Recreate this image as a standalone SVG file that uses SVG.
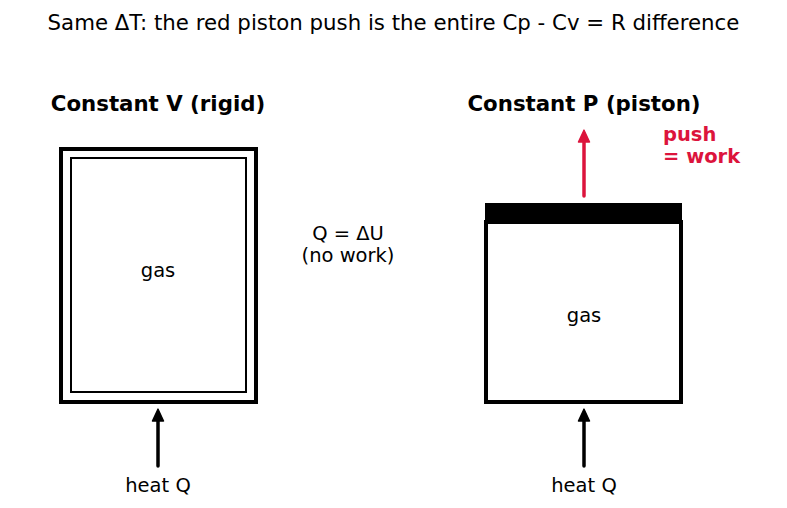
<svg xmlns="http://www.w3.org/2000/svg" width="787" height="508" viewBox="0 0 787 508">
<style>
text{font-family:"DejaVu Sans",sans-serif;fill:#000}
.t{font-size:21.3px}
.h{font-size:21.3px;font-weight:bold}
.l{font-size:19.5px}
.r{font-size:19.5px;font-weight:bold;fill:#dc143c}
</style>
<defs>
<marker id="ab" viewBox="0 0 10 10" refX="5" refY="5" markerWidth="3.8" markerHeight="3.8" orient="auto"><path d="M0.5,0.8 L9.5,5 L0.5,9.2 z" fill="#000" stroke="#000" stroke-width="1" stroke-linejoin="round"/></marker>
<marker id="ar" viewBox="0 0 10 10" refX="5" refY="5" markerWidth="3.8" markerHeight="3.8" orient="auto"><path d="M0.5,0.8 L9.5,5 L0.5,9.2 z" fill="#dc143c" stroke="#dc143c" stroke-width="1" stroke-linejoin="round"/></marker>
</defs>
<rect width="787" height="508" fill="#fff"/>
<text class="t" x="393.5" y="30" text-anchor="middle">Same ΔT: the red piston push is the entire Cp - Cv = R difference</text>
<g id="rigid">
<text class="h" x="158" y="111" text-anchor="middle">Constant V (rigid)</text>
<rect x="61" y="149" width="195" height="253" fill="none" stroke="#000" stroke-width="4"/>
<rect x="71" y="158" width="175" height="234" fill="none" stroke="#000" stroke-width="2"/>
<text class="l" x="158" y="277" text-anchor="middle">gas</text>
</g>
<g id="piston">
<text class="h" x="584" y="111" text-anchor="middle">Constant P (piston)</text>
<rect x="485" y="203" width="197" height="18" fill="#000"/>
<rect x="486" y="222" width="195" height="180" fill="none" stroke="#000" stroke-width="4"/>
<text class="l" x="584" y="322" text-anchor="middle">gas</text>
<text class="r" x="663" y="141">push</text>
<text class="r" x="663" y="163">= work</text>
</g>
<g id="mid">
<text class="l" x="348" y="240" text-anchor="middle">Q = ΔU</text>
<text class="l" x="348" y="262" text-anchor="middle">(no work)</text>
</g>
<g id="heatL"><text class="l" x="158" y="492" text-anchor="middle">heat Q</text></g>
<g id="heatR"><text class="l" x="584" y="492" text-anchor="middle">heat Q</text></g>
<g id="connectors" stroke-linecap="round" fill="none">
<line x1="158" y1="466" x2="158" y2="415" stroke="#000" stroke-width="3.5" marker-end="url(#ab)"/>
<line x1="584" y1="466" x2="584" y2="415" stroke="#000" stroke-width="3.5" marker-end="url(#ab)"/>
<line x1="584" y1="196" x2="584" y2="136" stroke="#dc143c" stroke-width="3.5" marker-end="url(#ar)"/>
</g>
</svg>
